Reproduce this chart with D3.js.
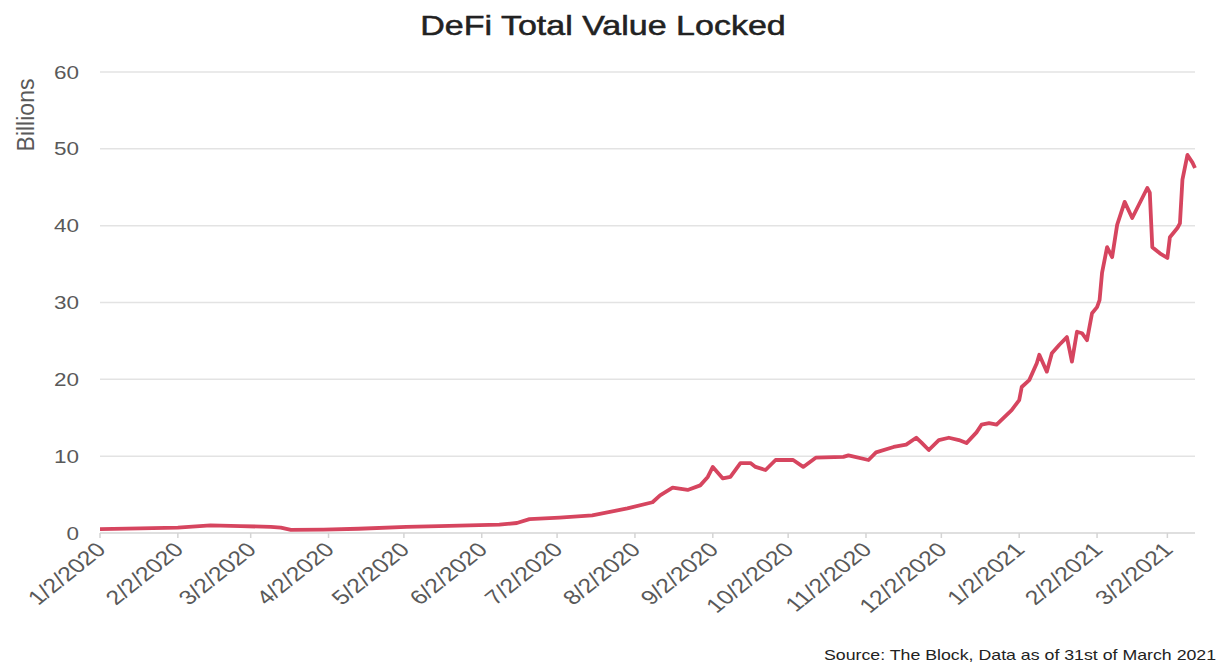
<!doctype html>
<html>
<head>
<meta charset="utf-8">
<script src="https://d3js.org/d3.v7.min.js"></script>
<style>
  body { margin: 0; background: #fff; }
  svg text { font-family: "Liberation Sans", Arial, sans-serif; }
</style>
</head>
<body>
<svg width="1224" height="667"></svg>
<script>
// TVL in billions
var dates = ["2020-01-02","2020-01-18","2020-02-02","2020-02-15","2020-02-27","2020-03-10","2020-03-14","2020-03-18",
  "2020-03-31","2020-04-14","2020-05-03","2020-05-16","2020-05-28","2020-06-09","2020-06-16","2020-06-21",
  "2020-07-03","2020-07-16","2020-07-30","2020-08-09","2020-08-12","2020-08-17","2020-08-23","2020-08-28",
  "2020-08-31","2020-09-02","2020-09-06","2020-09-09","2020-09-13","2020-09-17","2020-09-19","2020-09-23",
  "2020-09-27","2020-10-04","2020-10-08","2020-10-13","2020-10-24","2020-10-26","2020-11-03","2020-11-06",
  "2020-11-13","2020-11-18","2020-11-22","2020-11-24","2020-11-27","2020-12-01","2020-12-05","2020-12-09",
  "2020-12-12","2020-12-16","2020-12-18","2020-12-21","2020-12-24","2020-12-30","2021-01-02","2021-01-03",
  "2021-01-06","2021-01-09","2021-01-10","2021-01-13","2021-01-15","2021-01-18","2021-01-21","2021-01-23",
  "2021-01-25","2021-01-27","2021-01-29","2021-01-31","2021-02-02","2021-02-03","2021-02-04","2021-02-06",
  "2021-02-08","2021-02-10","2021-02-13","2021-02-16","2021-02-22","2021-02-23","2021-02-24","2021-02-27",
  "2021-03-02","2021-03-03","2021-03-06","2021-03-07","2021-03-08","2021-03-10","2021-03-12","2021-03-13"];
var tvl = [0.5,0.6,0.7,1.0,0.9,0.8,0.7,0.4,
  0.45,0.55,0.8,0.9,1.0,1.1,1.3,1.8,
  2.0,2.3,3.2,4.0,4.9,5.9,5.6,6.2,
  7.3,8.6,7.1,7.3,9.1,9.1,8.6,8.2,
  9.5,9.5,8.6,9.8,9.9,10.1,9.5,10.5,
  11.2,11.5,12.4,11.8,10.8,12.1,12.4,12.1,
  11.7,13.1,14.1,14.3,14.1,16.0,17.3,19.0,
  19.9,22.1,23.2,21.0,23.4,24.5,25.5,22.3,
  26.2,26.0,25.1,28.6,29.4,30.3,33.9,37.2,
  35.9,40.1,43.1,41.0,44.9,44.3,37.2,36.4,
  35.8,38.5,39.7,40.3,46.0,49.2,48.2,47.5];
var yTicks = [0,10,20,30,40,50,60];
var xTickDates = ["2020-01-02","2020-02-02","2020-03-02","2020-04-02","2020-05-02","2020-06-02","2020-07-02",
  "2020-08-02","2020-09-02","2020-10-02","2020-11-02","2020-12-02","2021-01-02","2021-02-02","2021-03-02"];

var parse = d3.timeParse("%Y-%m-%d");
var fmt = d3.timeFormat("%-m/%-d/%Y");
var data = dates.map(function(d, i) { return {date: parse(d), value: tvl[i]}; });

var svg = d3.select("svg");
var x = d3.scaleTime().domain([parse("2020-01-02"), parse("2021-03-13")]).range([100, 1195]);
var y = d3.scaleLinear().domain([0, 60]).range([533, 72]);
var sx = 1.25; // the source picture's text looks stretched sideways

// gridlines
svg.append("g")
  .selectAll("line")
  .data(yTicks)
  .enter()
  .append("line")
    .attr("x1", 100).attr("x2", 1195)
    .attr("y1", function(d) { return y(d); }).attr("y2", function(d) { return y(d); })
    .attr("stroke", function(d) { return d === 0 ? "#d4d4d4" : "#e3e3e3"; })
    .attr("stroke-width", 1.5);

// y labels
svg.append("g")
  .selectAll("text")
  .data(yTicks)
  .enter()
  .append("text")
    .attr("transform", function(d) { return "translate(79," + (y(d) + 6.5) + ") scale(" + sx + ",1)"; })
    .attr("text-anchor", "end")
    .attr("font-size", 18).attr("fill", "#595959")
    .text(function(d) { return d; });

// x axis ticks + rotated labels
var xt = svg.append("g")
  .selectAll("g")
  .data(xTickDates.map(parse))
  .enter()
  .append("g")
    .attr("transform", function(d) { return "translate(" + x(d) + ",533)"; });
xt.append("line").attr("y1", 0).attr("y2", 5).attr("stroke", "#d4d4d4").attr("stroke-width", 1.5);
xt.append("text")
  .attr("transform", "translate(7,18) scale(" + sx + ",1) rotate(-45)")
  .attr("text-anchor", "end")
  .attr("font-size", 20).attr("fill", "#595959")
  .text(function(d) { return fmt(d); });

// the line
svg.append("path")
  .datum(data)
  .attr("fill", "none")
  .attr("stroke", "#d6455f")
  .attr("stroke-width", 3.8)
  .attr("stroke-linejoin", "round")
  .attr("d", d3.line().x(function(d) { return x(d.date); }).y(function(d) { return y(d.value); }));

// title, axis title, source
svg.append("text")
  .attr("transform", "translate(603,35) scale(1.26,1)")
  .attr("text-anchor", "middle")
  .attr("font-size", 27).attr("fill", "#222")
  .attr("stroke", "#222").attr("stroke-width", 0.5)
  .text("DeFi Total Value Locked");

svg.append("text")
  .attr("transform", "translate(34,115) rotate(-90)")
  .attr("text-anchor", "middle")
  .attr("font-size", 23).attr("fill", "#595959")
  .text("Billions");

svg.append("text")
  .attr("transform", "translate(824,660) scale(" + sx + ",1)")
  .attr("font-size", 14.2).attr("fill", "#222")
  .text("Source: The Block, Data as of 31st of March 2021");
</script>
</body>
</html>
